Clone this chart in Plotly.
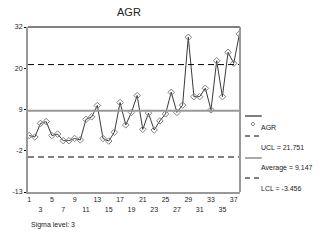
import plotly.graph_objects as go

# ---- data ----
samples = list(range(1, 39))
agr = [2.4, 2.0, 5.7, 6.2, 2.4, 2.8, 1.0, 1.0, 1.6, 1.2,
       6.8, 7.5, 10.6, 1.6, 0.9, 3.3, 11.4, 5.3, 8.7, 13.3,
       4.1, 8.5, 3.9, 6.4, 8.3, 14.2, 8.7, 10.7, 29.2, 13.0,
       13.0, 15.3, 9.4, 22.8, 13.0, 25.1, 22.1, 30.1]
ucl = 21.751
avg = 9.147
lcl = -3.456
x_ticks = list(range(1, 38, 2))
x_ticktext = [str(v) if i % 2 == 0 else "<br>" + str(v) for i, v in enumerate(x_ticks)]
y_ticks = [32, 20.75, 9.5, -1.75, -13]
y_ticktext = ["32", "20", "9", "-2", "-13"]
title = "AGR"
sigma_text = "Sigma level: 3"

FONT = "Liberation Sans, Arial, sans-serif"

fig = go.Figure()
fig.add_trace(go.Scatter(
    x=samples, y=agr, mode="lines+markers", name="AGR",
    line=dict(color="#3a3a3a", width=1),
    marker=dict(symbol="diamond-open", size=5, color="#808080", line=dict(width=1, color="#808080")),
    showlegend=False,
))

shapes = []
# control lines
shapes.append(dict(type="line", xref="paper", yref="y", x0=0, x1=1, y0=ucl, y1=ucl,
                   line=dict(color="black", width=1, dash="6px,4px")))
shapes.append(dict(type="line", xref="paper", yref="y", x0=0, x1=1, y0=avg, y1=avg,
                   line=dict(color="#999999", width=2)))
shapes.append(dict(type="line", xref="paper", yref="y", x0=0, x1=1, y0=lcl, y1=lcl,
                   line=dict(color="black", width=1, dash="6px,4px")))
# frame: top black, right gray
shapes.append(dict(type="line", xref="paper", yref="paper", x0=0, x1=1, y0=1, y1=1,
                   line=dict(color="black", width=1)))
shapes.append(dict(type="line", xref="paper", yref="paper", x0=1, x1=1, y0=0, y1=1,
                   line=dict(color="#999999", width=2)))

# legend decorations
def py(ypx):
    return (192 - ypx) / 165.0

def px(xpx):
    return (xpx - 26) / 214.0

shapes.append(dict(type="line", xref="paper", yref="paper", x0=px(245), x1=px(262), y0=py(116), y1=py(116),
                   line=dict(color="black", width=1)))
dx, dy = 2 / 214.0, 2 / 165.0
cx, cy = px(253), py(124)
shapes.append(dict(type="path", xref="paper", yref="paper",
                   path=f"M {cx-dx},{cy} L {cx},{cy+dy} L {cx+dx},{cy} L {cx},{cy-dy} Z",
                   line=dict(color="#808080", width=1)))
shapes.append(dict(type="line", xref="paper", yref="paper", x0=px(245), x1=px(262), y0=py(136), y1=py(136),
                   line=dict(color="black", width=1, dash="5px,4px")))
shapes.append(dict(type="line", xref="paper", yref="paper", x0=px(245), x1=px(262), y0=py(158), y1=py(158),
                   line=dict(color="#555555", width=1)))
shapes.append(dict(type="line", xref="paper", yref="paper", x0=px(245), x1=px(262), y0=py(178), y1=py(178),
                   line=dict(color="black", width=1, dash="5px,4px")))

ann = []
ann.append(dict(text=title, xref="paper", yref="paper", x=px(128), y=py(12), showarrow=False,
                font=dict(size=11, color="#222222", family=FONT), xanchor="center", yanchor="middle"))
for txt, ypx in [("AGR", 127), (f"UCL = {ucl}", 147), (f"Average = {avg}", 168), (f"LCL = {lcl}", 188)]:
    ann.append(dict(text=txt, xref="paper", yref="paper", x=px(259), y=py(ypx), showarrow=False,
                    font=dict(size=7, color="#222222", family=FONT), xanchor="left", yanchor="middle"))
ann.append(dict(text=sigma_text, xref="paper", yref="paper", x=px(27), y=py(225), showarrow=False,
                font=dict(size=7, color="#222222", family=FONT), xanchor="left", yanchor="middle"))

fig.update_layout(
    width=320, height=240,
    margin=dict(l=26, r=80, t=27, b=48, pad=0),
    paper_bgcolor="white", plot_bgcolor="white",
    shapes=shapes, annotations=ann,
    showlegend=False,
    font=dict(family=FONT, size=7, color="#222222"),
)
fig.update_xaxes(range=[0.8, 38.1], tickvals=x_ticks, ticktext=x_ticktext,
                 showgrid=False, zeroline=False, showline=True, linecolor="#999999", linewidth=2,
                 ticks="", tickfont=dict(size=7, family=FONT, color="#222222"))
fig.update_yaxes(range=[-13, 32], tickvals=y_ticks, ticktext=y_ticktext,
                 showgrid=False, zeroline=False, showline=True, linecolor="#999999", linewidth=2,
                 ticks="outside", ticklen=2, tickcolor="black",
                 tickfont=dict(size=7, family=FONT, color="#222222"))

fig.write_html("out.html")
